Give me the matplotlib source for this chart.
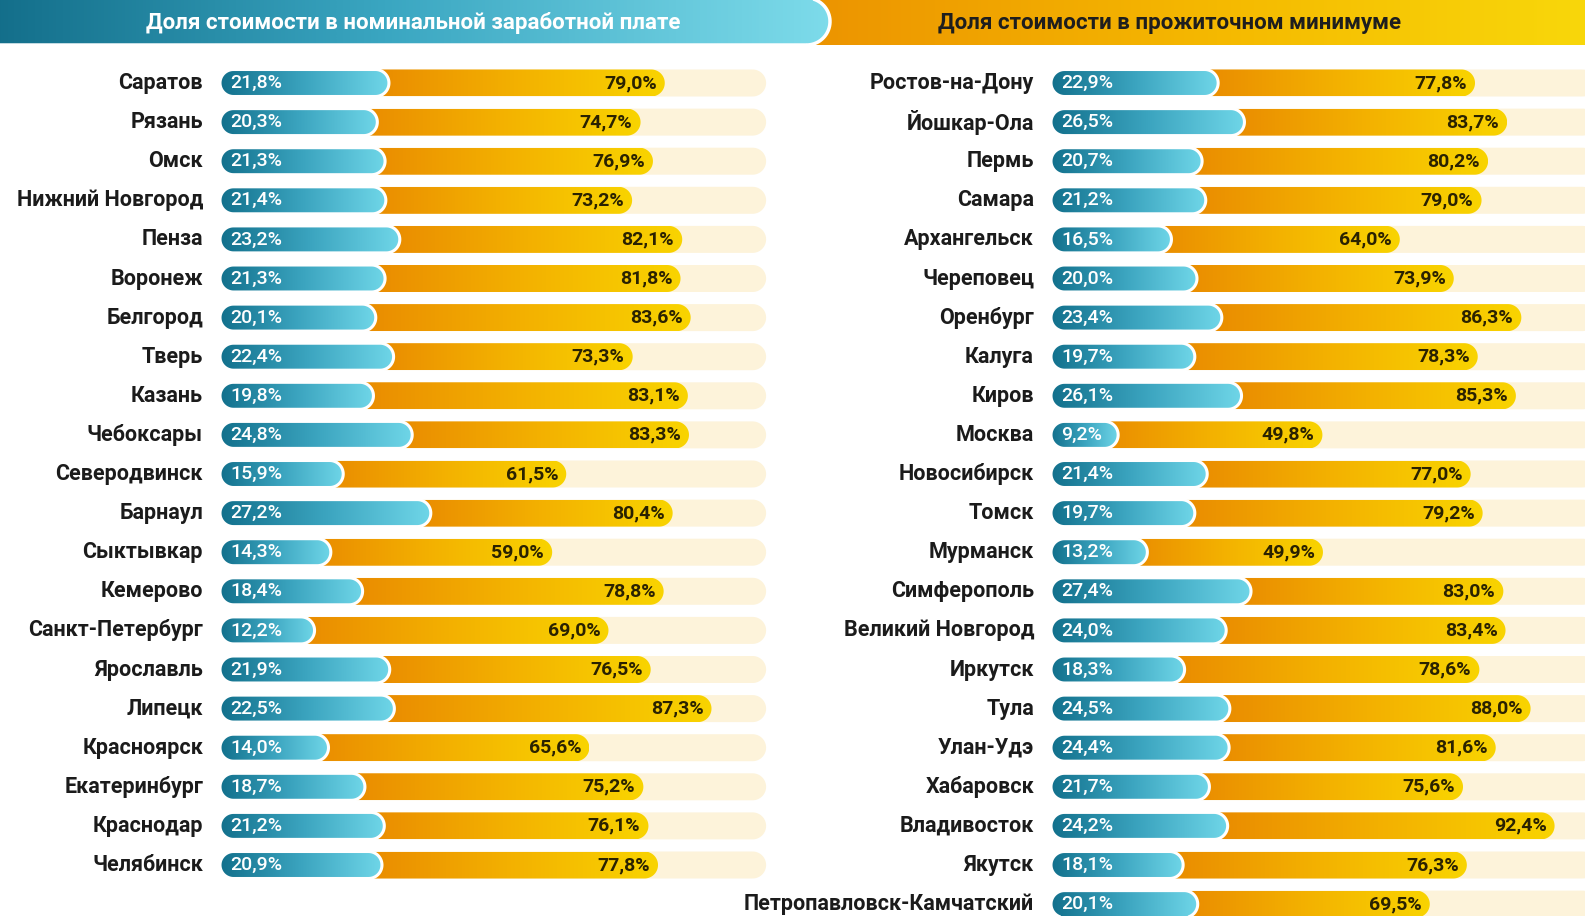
import numpy as np
import matplotlib
matplotlib.use("Agg")
import matplotlib.pyplot as plt
from matplotlib.patches import Polygon
from matplotlib.colors import LinearSegmentedColormap
from matplotlib.transforms import offset_copy


# Left panel: share of cost in nominal wage
LEFT_CITIES = ["Саратов", "Рязань", "Омск", "Нижний Новгород", "Пенза", "Воронеж",
               "Белгород", "Тверь", "Казань", "Чебоксары", "Северодвинск", "Барнаул",
               "Сыктывкар", "Кемерово", "Санкт-Петербург", "Ярославль", "Липецк",
               "Красноярск", "Екатеринбург", "Краснодар", "Челябинск"]
LEFT_WAGE = [21.8, 20.3, 21.3, 21.4, 23.2, 21.3, 20.1, 22.4, 19.8, 24.8, 15.9, 27.2,
             14.3, 18.4, 12.2, 21.9, 22.5, 14.0, 18.7, 21.2, 20.9]
LEFT_MIN = [79.0, 74.7, 76.9, 73.2, 82.1, 81.8, 83.6, 73.3, 83.1, 83.3, 61.5, 80.4,
            59.0, 78.8, 69.0, 76.5, 87.3, 65.6, 75.2, 76.1, 77.8]

# Right panel
RIGHT_CITIES = ["Ростов-на-Дону", "Йошкар-Ола", "Пермь", "Самара", "Архангельск",
                "Череповец", "Оренбург", "Калуга", "Киров", "Москва", "Новосибирск",
                "Томск", "Мурманск", "Симферополь", "Великий Новгород", "Иркутск",
                "Тула", "Улан-Удэ", "Хабаровск", "Владивосток", "Якутск",
                "Петропавловск-Камчатский"]
RIGHT_WAGE = [22.9, 26.5, 20.7, 21.2, 16.5, 20.0, 23.4, 19.7, 26.1, 9.2, 21.4, 19.7,
              13.2, 27.4, 24.0, 18.3, 24.5, 24.4, 21.7, 24.2, 18.1, 20.1]
RIGHT_MIN = [77.8, 83.7, 80.2, 79.0, 64.0, 73.9, 86.3, 78.3, 85.3, 49.8, 77.0, 79.2,
             49.9, 83.0, 83.4, 78.6, 88.0, 81.6, 75.6, 92.4, 76.3, 69.5]

TITLE_LEFT = "Доля стоимости в номинальной заработной плате"
TITLE_RIGHT = "Доля стоимости в прожиточном минимуме"

W, H = 1585, 916
ROW_TOP = 83
ROW_STEP = 39.1
N_ROWS = 22
BAR_H = 27 / ROW_STEP

TEAL = LinearSegmentedColormap.from_list("teal", ["#12708c", "#3ba4bf", "#6fd6e8"])
ORANGE = LinearSegmentedColormap.from_list("orange", ["#e98800", "#f3b000", "#f9d400"])
BANNER_TEAL = LinearSegmentedColormap.from_list("bt", ["#0e6783", "#3aa6c1", "#7ddbea"])
BANNER_ORANGE = LinearSegmentedColormap.from_list("bo", ["#ec9200", "#f5b900", "#f9dc0c"])
CREAM = "#fdf3da"
GRAD = np.linspace(0, 1, 256).reshape(1, -1)

plt.rcParams['font.family'] = ['Roboto', 'DejaVu Sans']


def px_scale(ax):
    p0 = ax.transData.transform((0, 0))
    p1 = ax.transData.transform((1, 1))
    return abs(p1[0] - p0[0]), abs(p1[1] - p0[1])


def cap_radius(ax, h):
    # half the bar height, expressed in x data units (circle in pixels)
    sx, sy = px_scale(ax)
    return h * sy / sx / 2


def pill(ax, x0, x1, yc, h, cmap=None, color=None, edge="none", lw=0, z=2):
    r = cap_radius(ax, h)
    x1 = max(x1, x0 + 2 * r)
    t = np.linspace(-np.pi / 2, np.pi / 2, 40)
    right = np.column_stack([x1 - r + r * np.cos(t), yc - h / 2 * np.sin(t)])
    left = np.column_stack([x0 + r - r * np.cos(t), yc + h / 2 * np.sin(t)])
    patch = Polygon(np.vstack([right, left]), closed=True,
                    facecolor=color if cmap is None else "none",
                    edgecolor=edge, linewidth=lw, zorder=z + 0.1)
    ax.add_patch(patch)
    if cmap is not None:
        im = ax.imshow(GRAD, extent=(x0, x1, yc + h / 2, yc - h / 2),
                       cmap=cmap, aspect="auto", zorder=z, interpolation="bicubic")
        im.set_clip_path(patch)
    return patch


def fmt(v):
    return ("%.1f" % v).replace(".", ",") + "%"


def draw_panel(fig, x_start, x_end, k_orange, k_teal, cream_max, cities, wage, minimum):
    top = ROW_TOP - ROW_STEP / 2
    height = ROW_STEP * N_ROWS
    rect = [x_start / W, 1 - (top + height) / H, (x_end - x_start) / W, height / H]
    ax = fig.add_axes(rect)
    ax.set_autoscale_on(False)
    ax.set_xlim(0, (x_end - x_start) / k_orange)
    ax.set_ylim(N_ROWS - 0.5, -0.5)
    ax.axis("off")
    ax_t = ax.twiny()
    ax_t.set_autoscale_on(False)
    ax_t.set_xlim(0, (x_end - x_start) / k_teal)
    ax_t.set_ylim(N_ROWS - 0.5, -0.5)
    ax_t.axis("off")

    label_tr = offset_copy(ax.transData, fig=fig, x=-17, y=0, units="dots")
    orange_tr = offset_copy(ax.transData, fig=fig, x=-8, y=0, units="dots")
    teal_tr = offset_copy(ax_t.transData, fig=fig, x=10, y=0, units="dots")
    r = cap_radius(ax, BAR_H)

    for i, (name, w, m) in enumerate(zip(cities, wage, minimum)):
        pill(ax, 0, cream_max, i, BAR_H, color=CREAM, z=1)
        teal_end = ax.transData.inverted().transform(ax_t.transData.transform((w, i)))[0]
        pill(ax, teal_end - 2 * r, m, i, BAR_H, cmap=ORANGE, z=2)
        pill(ax_t, 0, w, i, BAR_H, cmap=TEAL, edge="white", lw=2.2, z=3)
        ax.text(0, i, name, transform=label_tr, ha="right", va="center",
                fontsize=15.5, fontweight="bold", color="#1b1b1b")
        ax.text(m, i, fmt(m), transform=orange_tr, ha="right", va="center",
                fontsize=14, fontweight="bold", color="#2a2200", zorder=5)
        ax_t.text(0, i, fmt(w), transform=teal_tr, ha="left", va="center",
                  fontsize=14, fontweight="medium", color="white", zorder=5)


def draw_banners(fig):
    hb = 52
    ax = fig.add_axes([0, 1 - hb / H, 1, hb / H])
    ax.set_autoscale_on(False)
    ax.set_xlim(0, W)
    ax.set_ylim(hb, 0)
    ax.axis("off")
    pill(ax, 790, W + 60, 21.5, 47, cmap=BANNER_ORANGE, z=1)
    pill(ax, -60, 830, 21.5, 47, cmap=BANNER_TEAL, edge="white", lw=2.5, z=2)
    ax.text(413, 23, TITLE_LEFT, ha="center", va="center", fontsize=16,
            fontweight="bold", color="white", zorder=5)
    ax.text(1170, 23, TITLE_RIGHT, ha="center", va="center", fontsize=16,
            fontweight="bold", color="#1e1e1e", zorder=5)


def main():
    fig = plt.figure(figsize=(W / 100, H / 100), dpi=100)
    fig.patch.set_facecolor("white")
    draw_panel(fig, 220, 800, 5.63, 7.75, 97, LEFT_CITIES, LEFT_WAGE, LEFT_MIN)
    draw_panel(fig, 1051, W, 5.45, 7.3, 100, RIGHT_CITIES, RIGHT_WAGE, RIGHT_MIN)
    draw_banners(fig)
    fig.savefig("out.png", dpi=100, facecolor="white")


main()
